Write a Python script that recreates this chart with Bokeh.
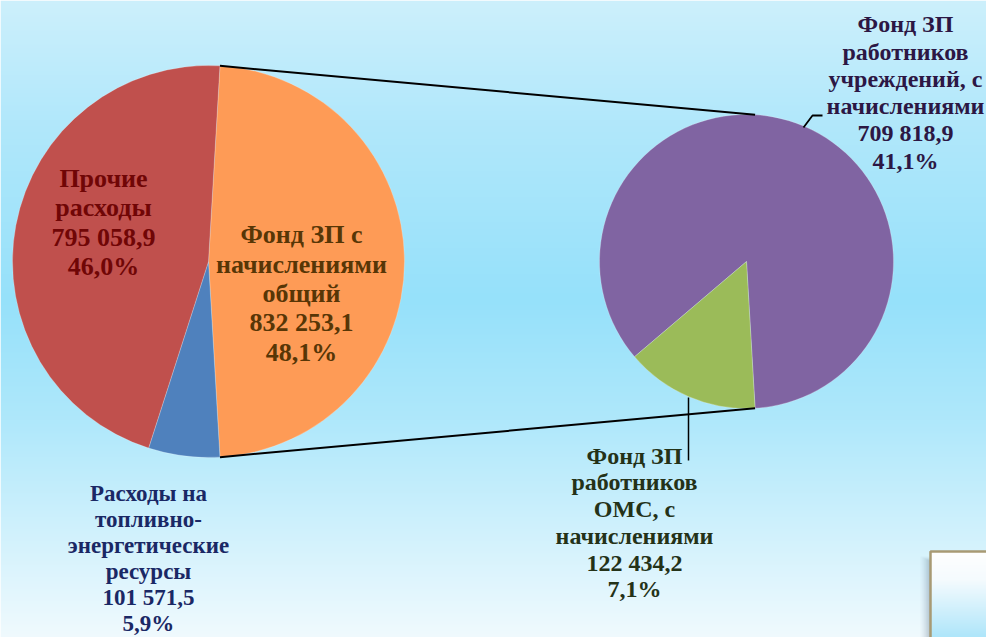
import numpy as np
from bokeh.plotting import figure
from bokeh.models import Range1d
from bokeh.core.properties import value
from bokeh.embed import file_html
from bokeh.resources import INLINE

# ---------------- data ----------------
main_labels = ["Фонд ЗП с\nначислениями\nобщий",
               "Расходы на\nтопливно-\nэнергетические\nресурсы",
               "Прочие\nрасходы"]
main_values = [832253.1, 101571.5, 795058.9]
sub_labels = ["Фонд ЗП\nработников\nучреждений, с\nначислениями",
              "Фонд ЗП\nработников\nОМС, с\nначислениями"]
sub_values = [709818.9, 122434.2]

# ---------------- styles ----------------
main_colors = ["#FE9B56", "#4F81BD", "#C0504D"]
sub_colors = ["#8064A2", "#9BBB59"]
main_text_colors = ["#573606", "#1A2865", "#700606"]
sub_text_colors = ["#2C1744", "#243218"]
FONT = value("Liberation Serif")

total = sum(main_values)


def fmt_num(v):
    s = f"{v:,.1f}"
    return s.replace(",", " ").replace(".", ",")


def fmt_pct(v):
    return f"{v / total * 100:.1f}".replace(".", ",") + "%"


W, H = 986, 637
p = figure(width=W, height=H, output_backend="svg", toolbar_location=None,
           x_range=Range1d(0, W), y_range=Range1d(-H, 0),
           min_border=0)
p.axis.visible = False
p.grid.visible = False
p.outline_line_color = None
p.background_fill_color = None
p.border_fill_color = None

# background gradient
stops_y = [0, 120, 300, 420, 637]
stops_c = [(205, 240, 252), (178, 232, 251), (150, 225, 250), (175, 232, 251), (240, 250, 254)]
ys = np.arange(H, 0, -1)  # bottom to top rows
img = np.zeros((len(ys), 1), dtype=np.uint32)
view = img.view(dtype=np.uint8).reshape((len(ys), 1, 4))
for ch in range(3):
    view[:, 0, ch] = np.interp(ys, stops_y, [c[ch] for c in stops_c]).astype(np.uint8)
view[:, 0, 3] = 255
p.image_rgba(image=[img], x=0, y=-H, dw=W, dh=H)

# bottom-right decorative box with shadow
for i, a in enumerate([0.04, 0.06, 0.08, 0.10, 0.12]):
    p.quad(left=920 + 2 * i, right=990, top=-(556 + i), bottom=-640,
           fill_color="#5a7080", fill_alpha=a, line_color=None)
by = np.arange(637, 551, -1)
bimg = np.zeros((len(by), 1), dtype=np.uint32)
bv = bimg.view(dtype=np.uint8).reshape((len(by), 1, 4))
bs_y = [551, 580, 637]
bs_c = [(255, 255, 255), (245, 251, 254), (175, 230, 250)]
for ch in range(3):
    bv[:, 0, ch] = np.interp(by, bs_y, [c[ch] for c in bs_c]).astype(np.uint8)
bv[:, 0, 3] = 255
p.image_rgba(image=[bimg], x=930, y=-637, dw=60, dh=86)
p.quad(left=930, right=992, top=-551, bottom=-645, fill_color=None,
       line_color="#A89A74", line_width=2.5)

# ---------------- main pie ----------------
c1x, c1y, r1 = 208, -261, 196
fracs = [v / total for v in main_values]
h = fracs[0] * np.pi  # combined slice centred on the right
starts, ends = [], []
cur = h
for f in fracs:
    ang = f * 2 * np.pi
    ends.append(cur)
    starts.append(cur - ang)
    cur -= ang
p.wedge(x=c1x, y=c1y, radius=r1, start_angle=starts, end_angle=ends,
        fill_color=main_colors, line_color="#ffffff", line_alpha=0.4, line_width=0.6)

# ---------------- sub pie ----------------
c2x, c2y, r2 = 746, -261, 147
sub_total = sum(sub_values)
gang = sub_values[1] / sub_total * 2 * np.pi
sub_start = [-h, -h - gang]
sub_end = [-h - gang + 2 * np.pi, -h]
p.wedge(x=c2x, y=c2y, radius=r2, start_angle=sub_start, end_angle=sub_end,
        fill_color=sub_colors, line_color="#ffffff", line_alpha=0.4, line_width=0.6)

# connector lines
for a in (h, -h):
    p.line(x=[c1x + r1 * np.cos(a), c2x + r2 * np.cos(a)],
           y=[c1y + r1 * np.sin(a), c2y + r2 * np.sin(a)],
           line_color="#000000", line_width=2)

# leader lines
p.line(x=[803, 812, 822], y=[-127, -115, -115], line_color="#000000", line_width=1.8)
p.line(x=[688, 688], y=[-397, -460], line_color="#000000", line_width=1.5)

# ---------------- labels ----------------
main_texts = [f"{l}\n{fmt_num(v)}\n{fmt_pct(v)}" for l, v in zip(main_labels, main_values)]
sub_texts = [f"{l}\n{fmt_num(v)}\n{fmt_pct(v)}" for l, v in zip(sub_labels, sub_values)]

main_pos = [(301, -293, "26px", 1.01), (148, -558, "23px", 1.04), (103, -222, "26px", 1.01)]
sub_pos = [(905, -92, "24px", 1.05), (634, -522, "24px", 1.03)]

for t, (x, y, fs, lh), col in zip(main_texts, main_pos, main_text_colors):
    p.text(x=[x], y=[y], text=[t], text_align="center", text_baseline="middle",
           text_font=FONT, text_font_style="bold", text_font_size=fs,
           text_line_height=lh, text_color=col)
for t, (x, y, fs, lh), col in zip(sub_texts, sub_pos, sub_text_colors):
    p.text(x=[x], y=[y], text=[t], text_align="center", text_baseline="middle",
           text_font=FONT, text_font_style="bold", text_font_size=fs,
           text_line_height=lh, text_color=col)

open("out.html", "w").write(file_html(p, INLINE))
